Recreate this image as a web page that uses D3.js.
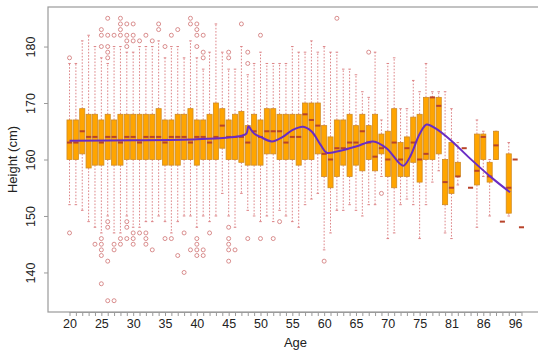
<!DOCTYPE html>
<html>
<head>
<meta charset="utf-8">
<script src="https://cdn.jsdelivr.net/npm/d3@7"></script>
<style>
  html, body { margin: 0; padding: 0; background: #fff; }
  svg { display: block; font-family: "Liberation Sans", Arial, Helvetica, sans-serif; }
</style>
</head>
<body>
<svg id="chart" width="538" height="354"></svg>
<script>
// Height distribution by age: one box per age group, plus a smoothed trend.
const ages = [20,21,22,23,24,25,26,27,28,29,30,31,32,33,34,35,36,37,38,39,
  40,41,42,43,44,45,46,47,48,49,50,51,52,53,54,55,56,57,58,59,
  60,61,62,63,64,65,66,67,68,69,70,71,72,73,74,75,76,77,78,79,
  81,82,83,84,85,86,87,88,89,92,96,97];

const lowerWhisker = [152,152,151,149,148,147,150,147,147,150,148,148,149,149,150,149,147,149,150,150,
  148,150,149,150,154,150,148,154,151,150,149,150,149,151,150,149,148,152,153,154,
  144,147,151,151,152,151,150,152,152,157,146,147,152,153,152,146,152,156,158,147,
  146,155.5,162,155,148,157,150,160,149,150,160,148];
const q1 = [160,160,161,158.5,159,159,160,159,159,160,160,160,160,160,160,159,159,159,160,160,
  159,160,160,160,162,160,160,159.5,159,159,159,161,161,160,160,160,159,160,160,161,
  157,155,157,159,157,159,158,160,158,161,157,155,157,157,159.5,156,160,160,161,152,
  154,157,162,155,155.5,160,156,160,149,150.5,160,148];
const median = [163,163,165,164,164,163,164,164,163,164,164,163,164,164,164,163,164,164,164,163,
  164,164,163,164,166,164,164,164,163,165,164,165,165,165,163,164,164,168,167,166,
  161,160,162,162,163,163,165,163,160.5,162,160,163,160,162,163,160,161,171,169.5,156,
  155,157,162,155,158,164,157,162.5,149,155,160,148];
const q3 = [167,167,169,168,168,167,168,167,168,168,168,168,168,168,169,167,167,168,168,169,
  167,167,168,170,169,167,168,168.5,166,168,167,169,169,168,168,168,168,170,170,170,
  166,164,167,167,168,166,168,166,168,164.5,165,169,163,164,167.5,168,171,171,171,160,
  163,159.5,162,155,164.5,164.5,159.5,165,149,161,160,148];
const upperWhisker = [177,177,181,182,180,178,177,180,180,179,179,180,180,180,181,178,180,180,178,181,
  178,176,179,184,179,176,176,180,175,177,179,177,177,177,177,180,179,179,181,179,
  180,179,179,176,176,175,172,171,179,167,177,178,169,169,174,172,177,172,172,172,
  169,163,162,155,167,165,160,165,149,163,160,148];
const outliers = [
  [178,147],[],[],[],[145],[183,182,180,146,145,144,143,138],
  [185,182,180,179,178,149,148,142,135],[182,145,144,135],[185,184,183,182,146,145],
  [184,182,181,180,149,148,146],[184,182,181,147,146,145],[181,147],[182,147,146,145],
  [181,144],[184,183],[180,146],[182,146],[183,143],[147,140],[185,184,144],
  [184,183,182,180,146,145,144,143],[182,179,178,144,143],[147],[],[],
  [179,178,148,146,145,144,142],[144],[184],[179,177,146],[],[182,146],[],[146],[149],
  [],[],[],[],[],[],[142],[],[185],[],[],[],[],[179],[],[154],
  [],[],[],[],[],[],[],[],[],[],[],[],[],[],[],[],[],[],[],[],[],[]
];

// Smoothed trend, given at box positions (1 = first age group)
const trendPos = [1,11,21,26,28,28.8,29.1,29.5,30,31,32.8,34.5,36,37.7,39,40.5,41.4,43,46,48.7,50.8,53.4,54.5,56,57.1,58.5,60.8,63.9,67.4,70.2];
const trendHeight = [163.3,163.4,163.6,163.9,164.2,164.6,165.9,165.3,164.6,164.0,163.2,164.0,165.2,165.8,165.0,162.5,161.2,161.4,162.3,163.2,162.0,158.9,160.5,164.5,166.2,165.5,163.5,160.2,156.7,154.2];

const yTicks = [140,150,160,170,180];
const labelStep = 5;

const svg = d3.select("#chart");
const n = ages.length;
const pad = 0.04 * n;
const plot = { left: 48, top: 7, right: 543, bottom: 312 };

const x = d3.scaleLinear().domain([0.5 - pad, n + 0.5 + pad]).range([plot.left, plot.right]);
const y = d3.scaleLinear().domain([133, 187]).range([plot.bottom, plot.top]);

const step = x(2) - x(1);
const boxW = 0.8 * step;
const stapleW = 0.5 * boxW;

const axisCol = "#9a9a9a";
const whiskCol = "#d9787c";
const boxFill = "#ffa500";
const boxStroke = "#d08a20";
const medCol = "#b8432a";
const outCol = "#cf7272";

const g = svg.append("g");

ages.forEach((age, i) => {
  const cx = x(i + 1);
  const grp = g.append("g");
  const single = q1[i] === q3[i];
  if (!single) {
    // whiskers
    grp.append("line").attr("x1", cx).attr("x2", cx)
      .attr("y1", y(q3[i])).attr("y2", y(upperWhisker[i]))
      .attr("stroke", whiskCol).attr("stroke-width", 0.9).attr("stroke-dasharray", "1.6,1.6");
    grp.append("line").attr("x1", cx).attr("x2", cx)
      .attr("y1", y(q1[i])).attr("y2", y(lowerWhisker[i]))
      .attr("stroke", whiskCol).attr("stroke-width", 0.9).attr("stroke-dasharray", "1.6,1.6");
    // staples
    [upperWhisker[i], lowerWhisker[i]].forEach(v => {
      grp.append("line").attr("x1", cx - stapleW / 2).attr("x2", cx + stapleW / 2)
        .attr("y1", y(v)).attr("y2", y(v))
        .attr("stroke", whiskCol).attr("stroke-width", 0.9);
    });
    // box
    grp.append("rect")
      .attr("x", cx - boxW / 2).attr("width", boxW)
      .attr("y", y(q3[i])).attr("height", y(q1[i]) - y(q3[i]))
      .attr("fill", boxFill).attr("stroke", boxStroke).attr("stroke-width", 0.8);
  }
  // median
  grp.append("line").attr("x1", cx - boxW / 2).attr("x2", cx + boxW / 2)
    .attr("y1", y(median[i])).attr("y2", y(median[i]))
    .attr("stroke", medCol).attr("stroke-width", 2);
  // outliers
  grp.selectAll("circle").data(outliers[i]).join("circle")
    .attr("cx", cx).attr("cy", d => y(d)).attr("r", 2)
    .attr("fill", "none").attr("stroke", outCol).attr("stroke-width", 0.8);
});

// trend line
const trend = trendPos.map((p, k) => [p, trendHeight[k]]);
g.append("path")
  .datum(trend)
  .attr("d", d3.line().x(d => x(d[0])).y(d => y(d[1])).curve(d3.curveCatmullRom.alpha(0.5)))
  .attr("fill", "none").attr("stroke", "#6a2cc4").attr("stroke-width", 2);

// frame
svg.append("rect")
  .attr("x", plot.left).attr("y", plot.top)
  .attr("width", plot.right - plot.left).attr("height", plot.bottom - plot.top)
  .attr("fill", "none").attr("stroke", axisCol).attr("stroke-width", 1.2);

// x axis
const positions = ages.map((a, i) => i + 1);
const xAxis = d3.axisBottom(x)
  .tickValues(positions)
  .tickSize(4)
  .tickPadding(3)
  .tickFormat(p => ((p - 1) % labelStep === 0 ? String(ages[p - 1]) : ""));
const gx = svg.append("g").attr("transform", `translate(0,${plot.bottom})`).call(xAxis);
gx.select(".domain").attr("d", `M${x(1)},0.5H${x(n)}`).attr("stroke", axisCol);
gx.selectAll(".tick line").attr("stroke", axisCol);
gx.selectAll(".tick text").attr("fill", "#222").style("font-size", "12.5px")
  .style("font-family", "Liberation Sans, Arial, sans-serif");

// y axis
const yAxis = d3.axisLeft(y).tickValues(yTicks).tickSize(4).tickPadding(3);
const gy = svg.append("g").attr("transform", `translate(${plot.left},0)`).call(yAxis);
gy.select(".domain").remove();
gy.selectAll(".tick line").attr("stroke", axisCol);
gy.selectAll(".tick text")
  .attr("fill", "#222").style("font-size", "12.5px")
  .style("font-family", "Liberation Sans, Arial, sans-serif")
  .attr("text-anchor", "middle")
  .attr("x", 0).attr("dy", "0")
  .attr("transform", "translate(-13,0) rotate(-90)");

// axis titles
svg.append("text")
  .attr("x", (plot.left + plot.right) / 2).attr("y", 347)
  .attr("text-anchor", "middle").attr("fill", "#222")
  .style("font-size", "13px").text("Age");
svg.append("text")
  .attr("transform", `translate(17,${(plot.top + plot.bottom) / 2}) rotate(-90)`)
  .attr("text-anchor", "middle").attr("fill", "#222")
  .style("font-size", "13px").text("Height (cm)");
</script>
</body>
</html>
